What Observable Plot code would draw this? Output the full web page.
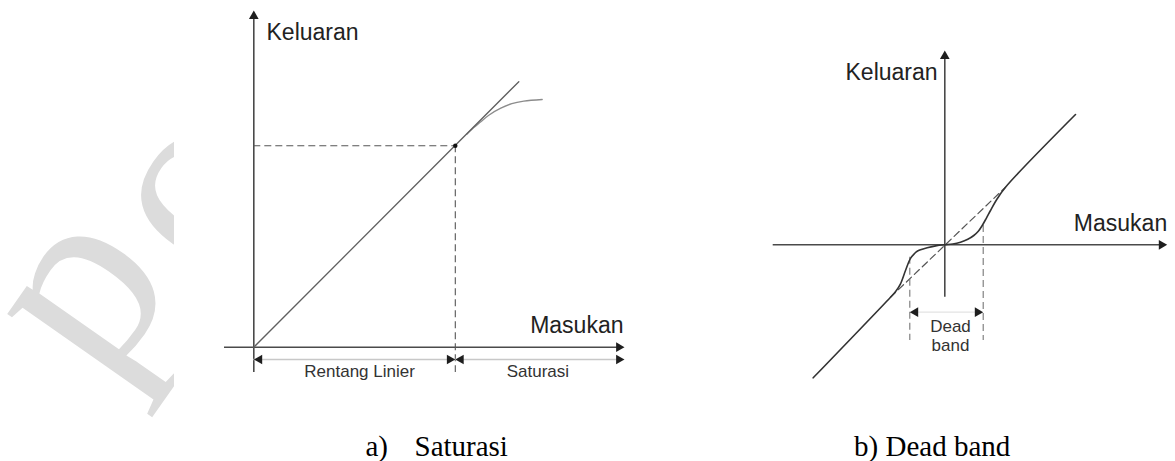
<!DOCTYPE html>
<html><head><meta charset="utf-8">
<script src="https://cdn.jsdelivr.net/npm/d3@7"></script>
<script src="https://cdn.jsdelivr.net/npm/@observablehq/plot@0.6"></script>
<style>
html,body{margin:0;padding:0;background:#fff;}
#page{position:relative;width:1175px;height:461px;overflow:hidden;}
#page > div{position:absolute;top:0;}
#wm{left:0;} #pa{left:200px;} #pb{left:760px;}
svg{display:block;overflow:visible;}
</style></head><body>
<div id="page"><div id="wm"></div><div id="pa"></div><div id="pb"></div></div>
<script>
// ---------- Panel a) Saturasi (units, origin at the axes crossing) ----------
const satAxisX = [-29.3, 370.7];          // Masukan axis extent
const satAxisY = [-25.3, 336.7];          // Keluaran axis extent
const satLineX = [0, 265];                // ideal linear response
const satLineY = [0, 265.5];
const satLimit = 201.5;                   // end of "Rentang Linier"
const satCurveX = [213, 220, 226, 235, 247, 258, 270, 288.4];
const satCurveY = [213, 219.6, 224.6, 232, 239, 243.5, 246, 247.7];
const satDimLevel = -12.3;
const satLabels = ["Keluaran", "Masukan", "Rentang Linier", "Saturasi"];
const satCaption = ["a)", "Saturasi"];

// ---------- Panel b) Dead band ----------
const dbAxisX = [-171.6, 222.4];
const dbAxisY = [-52.4, 194.3];
const dbCurveX = [-131.6, -54.3, -49, -44.3, -39.3, -34.3, -30, -27.6, -17.6, -8, 0, 8, 15.7, 23, 29, 33.5, 37.4, 41.5, 45.7, 52.4, 60.7, 130.7];
const dbCurveY = [-133, -52.4, -46.5, -39, -25.7, -13.5, -8.5, -6.4, -3, -0.8, 0, 0.8, 2.6, 5.5, 9.3, 13.5, 19.3, 26.5, 34.3, 46, 57.6, 130.3];
const dbLinearX = [-54.3, 60.7];          // dashed ideal line
const dbLinearY = [-52.4, 57.6];
const dbBand = [-35, 38.4];               // dead band limits on input axis
const dbBandTop = [-12.4, 19.3];          // where the limits meet the curve
const dbBandBottom = -95.7;
const dbDimLevel = -67.4;
const dbLabels = ["Keluaran", "Masukan", "Dead", "band"];
const dbCaption = ["b) Dead band"];

const watermarkGlyphs = ["p", "o"];
const watermarkX = [103, 217];
const watermarkY = [388, 287];

// ---------- styles ----------
const axisColor = "#4a4a4a", headColor = "#1e1e1e", dimColor = "#c8c8c8", dashColor = "#555";
const sans = "Liberation Sans, Arial, sans-serif", serif = "Liberation Serif, Times New Roman, serif";
const H = 461;

// arrowhead helper: tip given, triangle offset so the tip sits on it
const tipOff = 5.6;
function heads(list, dir) {
  const rot = {right: 90, left: -90, up: 0}[dir];
  const dx = dir === "right" ? -tipOff : dir === "left" ? tipOff : 0;
  const dy = dir === "up" ? tipOff : 0;
  return Plot.dot(list, {x: d => d[0], y: d => d[1], symbol: "triangle", r: 3.6, rotate: rot, dx, dy, fill: headColor, stroke: "none"});
}
const seg = (xs, ys) => xs.map((x, i) => [x, ys[i]]);

// ---------- Panel a ----------
const pa = Plot.plot({
  width: 450, height: H, margin: 0,
  x: {domain: [-53.3, 396.7], axis: null},
  y: {domain: [346.7 - H, 346.7], axis: null},
  marks: [
    Plot.ruleY([0], {x1: satAxisX[0], x2: satAxisX[1] - 4, stroke: axisColor, strokeWidth: 1.6}),
    Plot.ruleX([0], {y1: satAxisY[0], y2: satAxisY[1] - 4, stroke: axisColor, strokeWidth: 1.6}),
    heads([[satAxisX[1], 0]], "right"),
    heads([[0, satAxisY[1]]], "up"),
    Plot.ruleY([satLimit], {x1: 0, x2: satLimit, stroke: dashColor, strokeWidth: 1.1, strokeDasharray: "7,4"}),
    Plot.ruleX([satLimit], {y1: satLimit, y2: satAxisY[0], stroke: dashColor, strokeWidth: 1.1, strokeDasharray: "7,4"}),
    Plot.line(seg(satCurveX, satCurveY), {x: d => d[0], y: d => d[1], curve: "catmull-rom", stroke: "#8c8c8c", strokeWidth: 1.3}),
    Plot.line(seg(satLineX, satLineY), {x: d => d[0], y: d => d[1], stroke: "#606060", strokeWidth: 1.3}),
    Plot.dot([[satLimit, satLimit]], {x: d => d[0], y: d => d[1], r: 2.2, fill: "#111"}),
    Plot.ruleY([satDimLevel], {x1: 0, x2: satAxisX[1] - 4, stroke: dimColor, strokeWidth: 1.3}),
    heads([[0, satDimLevel], [satLimit, satDimLevel]], "left"),
    heads([[satLimit, satDimLevel], [satAxisX[1], satDimLevel]], "right"),
    Plot.text([satLabels[0]], {x: 12.7, y: 307.7, text: d => d, textAnchor: "start", lineAnchor: "bottom", fontSize: 23, fontFamily: sans, fill: "#222"}),
    Plot.text([satLabels[1]], {x: satAxisX[1] - 1, y: 14.7, text: d => d, textAnchor: "end", lineAnchor: "bottom", fontSize: 23, fontFamily: sans, fill: "#222"}),
    Plot.text([satLabels[2]], {x: satLimit / 2 + 5, y: -29.3, text: d => d, textAnchor: "middle", lineAnchor: "bottom", fontSize: 17, fontFamily: sans, fill: "#333"}),
    Plot.text([satLabels[3]], {x: (satLimit + satAxisX[1]) / 2 - 2, y: -29.3, text: d => d, textAnchor: "middle", lineAnchor: "bottom", fontSize: 17, fontFamily: sans, fill: "#333"}),
    Plot.text([satCaption[0]], {x: 111.7, y: -108.3, text: d => d, textAnchor: "start", lineAnchor: "bottom", fontSize: 29, fontFamily: serif, fill: "#000"}),
    Plot.text([satCaption[1]], {x: 160.7, y: -108.3, text: d => d, textAnchor: "start", lineAnchor: "bottom", fontSize: 29, fontFamily: serif, fill: "#000"})
  ]
});
document.getElementById("pa").append(pa);

// ---------- Panel b ----------
const pb = Plot.plot({
  width: 415, height: H, margin: 0,
  x: {domain: [-184.3, 230.7], axis: null},
  y: {domain: [244.3 - H, 244.3], axis: null},
  marks: [
    Plot.ruleY([0], {x1: dbAxisX[0], x2: dbAxisX[1] - 4, stroke: axisColor, strokeWidth: 1.6}),
    Plot.ruleX([0], {y1: dbAxisY[0], y2: dbAxisY[1] - 4, stroke: axisColor, strokeWidth: 1.6}),
    heads([[dbAxisX[1], 0]], "right"),
    heads([[0, dbAxisY[1]]], "up"),
    Plot.line(seg(dbLinearX, dbLinearY), {x: d => d[0], y: d => d[1], stroke: dashColor, strokeWidth: 1.2, strokeDasharray: "7,4"}),
    Plot.ruleX([0, 1], {x: i => dbBand[i], y1: i => dbBandTop[i], y2: dbBandBottom, stroke: "#777", strokeWidth: 1.1, strokeDasharray: "7,4"}),
    Plot.line(seg(dbCurveX, dbCurveY), {x: d => d[0], y: d => d[1], curve: "catmull-rom", stroke: "#333", strokeWidth: 1.6}),
    Plot.ruleY([dbDimLevel], {x1: dbBand[0] + 4, x2: dbBand[1] - 4, stroke: "#e3e3e3", strokeWidth: 1.3}),
    heads([[dbBand[0], dbDimLevel]], "left"),
    heads([[dbBand[1], dbDimLevel]], "right"),
    Plot.text([dbLabels[0]], {x: -99.3, y: 165.3, text: d => d, textAnchor: "start", lineAnchor: "bottom", fontSize: 23, fontFamily: sans, fill: "#222"}),
    Plot.text([dbLabels[1]], {x: dbAxisX[1], y: 13.6, text: d => d, textAnchor: "end", lineAnchor: "bottom", fontSize: 23, fontFamily: sans, fill: "#222"}),
    Plot.text([dbLabels[2]], {x: 5.7, y: -87.4, text: d => d, textAnchor: "middle", lineAnchor: "bottom", fontSize: 17, fontFamily: sans, fill: "#333"}),
    Plot.text([dbLabels[3]], {x: 5.7, y: -105.7, text: d => d, textAnchor: "middle", lineAnchor: "bottom", fontSize: 17, fontFamily: sans, fill: "#333"}),
    Plot.text(dbCaption, {x: -90.7, y: -210.7, text: d => d, textAnchor: "start", lineAnchor: "bottom", fontSize: 29, fontFamily: serif, fill: "#000"})
  ]
});
document.getElementById("pb").append(pb);

// ---------- watermark (clipped at its right edge, as in the source) ----------
const wm = Plot.plot({
  width: 174, height: H, margin: 0,
  x: {domain: [0, 174], axis: null},
  y: {domain: [H, 0], axis: null},
  marks: [
    Plot.text(watermarkGlyphs, {x: (d, i) => watermarkX[i], y: (d, i) => watermarkY[i], text: d => d, rotate: -55, textAnchor: "start", lineAnchor: "bottom", fontSize: 265, fontFamily: serif, fill: "#dcdcdc"})
  ]
});
wm.style.overflow = "hidden";
document.getElementById("wm").append(wm);
</script>
</body></html>
